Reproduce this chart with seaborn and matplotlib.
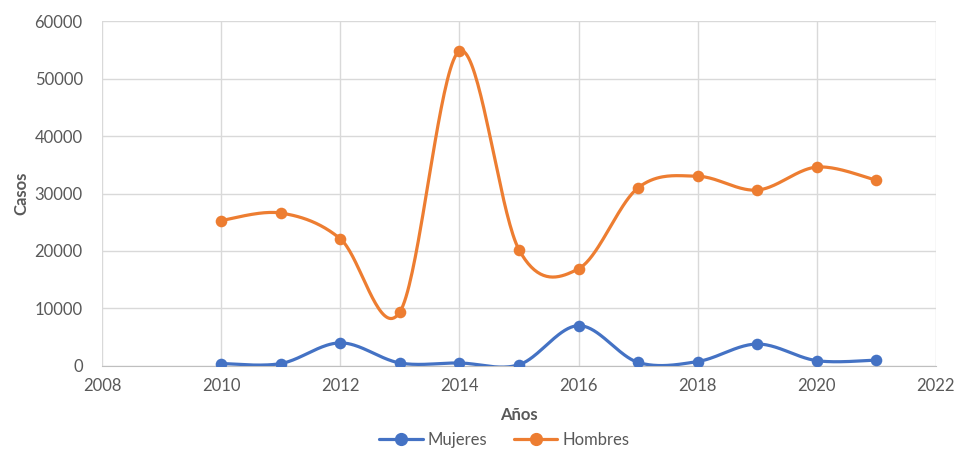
import numpy as np
import pandas as pd
import matplotlib
matplotlib.use("Agg")
import matplotlib.pyplot as plt
from matplotlib.lines import Line2D
import seaborn as sns

# data
years = [2010, 2011, 2012, 2013, 2014, 2015, 2016, 2017, 2018, 2019, 2020, 2021]
mujeres = [400, 400, 4000, 500, 500, 200, 7000, 600, 750, 3800, 900, 1000]
hombres = [25300, 26600, 22100, 9400, 54800, 20200, 16900, 31000, 33000, 30600, 34600, 32300]

blue = "#4472C4"
orange = "#ED7D31"
txt = "#595959"


def smooth(x, y, n=40):
    # Excel-style smoothed line: cubic Bezier with cardinal-spline control points
    x = np.asarray(x, float)
    y = np.asarray(y, float)
    px = np.concatenate([[x[0]], x, [x[-1]]])
    py = np.concatenate([[y[0]], y, [y[-1]]])
    t = np.linspace(0, 1, n)
    xs, ys = [], []
    for i in range(1, len(x)):
        p0 = np.array([px[i], py[i]])
        p3 = np.array([px[i + 1], py[i + 1]])
        c1 = p0 + (p3 - np.array([px[i - 1], py[i - 1]])) / 6
        c2 = p3 - (np.array([px[i + 2], py[i + 2]]) - p0) / 6
        b = ((1 - t) ** 3)[:, None] * p0 + (3 * (1 - t) ** 2 * t)[:, None] * c1 \
            + (3 * (1 - t) * t ** 2)[:, None] * c2 + (t ** 3)[:, None] * p3
        xs.append(b[:, 0])
        ys.append(b[:, 1])
    return np.concatenate(xs), np.concatenate(ys)


sns.set_style("white")
plt.rcParams["font.family"] = ["Lato", "DejaVu Sans"]

fig = plt.figure(figsize=(9.55, 4.5), dpi=100)
ax = fig.add_axes([0.107, 0.187, 0.873, 0.766])

for vals, col in [(mujeres, blue), (hombres, orange)]:
    sx, sy = smooth(years, vals)
    curve = pd.DataFrame({"x": sx, "y": sy})
    sns.lineplot(data=curve, x="x", y="y", sort=False, estimator=None,
                 color=col, linewidth=2.3, ax=ax, zorder=3)
    pts = pd.DataFrame({"x": years, "y": vals})
    sns.scatterplot(data=pts, x="x", y="y", color=col, s=70, edgecolor=col,
                    linewidth=0, ax=ax, zorder=4)

ax.set_xlim(2008, 2022)
ax.set_ylim(0, 60000)
ax.set_xticks(range(2008, 2023, 2))
ax.set_yticks(range(0, 60001, 10000))
ax.grid(True, color="#d9d9d9", linewidth=1)
ax.set_axisbelow(True)
for s in ["top", "right", "left"]:
    ax.spines[s].set_visible(False)
ax.spines["bottom"].set_color("#bfbfbf")
ax.tick_params(axis="both", length=0, labelsize=12, labelcolor=txt, pad=9)
ax.tick_params(axis="y", pad=14)

ax.set_xlabel("Años", fontsize=12, fontweight="bold", color=txt, labelpad=9)
ax.set_ylabel("Casos", fontsize=12, fontweight="bold", color=txt, labelpad=4)

handles = [
    Line2D([], [], color=blue, lw=2.3, marker="o", markersize=8.5),
    Line2D([], [], color=orange, lw=2.3, marker="o", markersize=8.5),
]
fig.legend(handles, ["Mujeres", "Hombres"], loc="center", bbox_to_anchor=(0.528, 0.022),
           ncol=2, frameon=False, fontsize=12, labelcolor=txt,
           handlelength=2.6, handletextpad=0.3, columnspacing=1.6)

fig.savefig("out.png", dpi=100)
